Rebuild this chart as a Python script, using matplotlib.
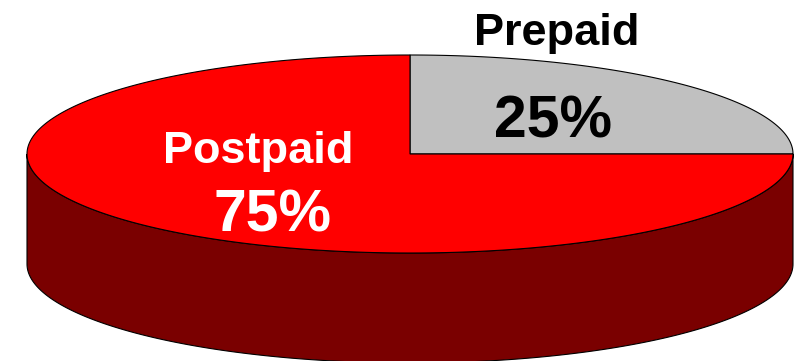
import matplotlib.pyplot as plt
import numpy as np
from matplotlib.patches import Polygon

# slice data
labels = ['Prepaid', 'Postpaid']
values = [25, 75]
top_colors = ['#c0c0c0', '#ff0000']
side_colors = ['#606060', '#7a0000']
text_colors = ['black', 'white']

# ellipse geometry (pixel units, y pointing down)
cx, cy = 410, 154
a, b = 383, 99
depth = 110


def pt(t, dz=0):
    t = np.radians(t)
    return np.column_stack([cx + a * np.cos(t), cy - b * np.sin(t) + dz])


fig = plt.figure(figsize=(7.98, 3.61), dpi=100)
ax = fig.add_axes([0, 0, 1, 1])
ax.set_xlim(0, 798)
ax.set_ylim(361, 0)
ax.axis('off')

# slices run clockwise starting at 12 o'clock
total = float(sum(values))
start = 90.0
spans = []
for v in values:
    end = start - 360.0 * v / total
    spans.append((end, start))
    start = end

# sides: only the front half (180..360 deg) is visible
for (t1, t2), sc in zip(spans, side_colors):
    for off in (0, 360, -360):
        lo = max(t1 + off, 180)
        hi = min(t2 + off, 360)
        if hi <= lo:
            continue
        ts = np.linspace(lo, hi, 200)
        poly = np.vstack([pt(ts), pt(ts[::-1], depth)])
        ax.add_patch(Polygon(poly, closed=True, facecolor=sc,
                             edgecolor='black', lw=0.8))

# top faces
for (t1, t2), tc in zip(spans, top_colors):
    ts = np.linspace(t1, t2, 300)
    poly = np.vstack([[cx, cy], pt(ts)])
    ax.add_patch(Polygon(poly, closed=True, facecolor=tc,
                         edgecolor='black', lw=0.8))

font = ['Liberation Sans', 'DejaVu Sans']
ax.text(557, 45, labels[0], ha='center', va='baseline', fontsize=32.5,
        fontweight='bold', color=text_colors[0], family=font)
ax.text(553, 138, '%d%%' % values[0], ha='center', va='baseline', fontsize=42.5,
        fontweight='bold', color=text_colors[0], family=font)
ax.text(258, 163, labels[1], ha='center', va='baseline', fontsize=32.5,
        fontweight='bold', color=text_colors[1], family=font)
ax.text(273, 232, '%d%%' % values[1], ha='center', va='baseline', fontsize=42.5,
        fontweight='bold', color=text_colors[1], family=font)

fig.savefig('out.png', dpi=100)
